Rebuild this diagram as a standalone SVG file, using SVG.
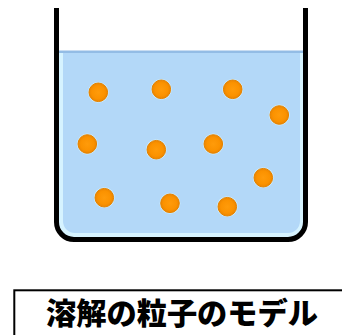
<svg xmlns="http://www.w3.org/2000/svg" width="342" height="335" viewBox="0 0 342 335">
  <style>
    .wall { fill: none; stroke: #000; stroke-width: 5; stroke-linecap: butt; stroke-linejoin: round; }
    .halo { fill: #cdeefe; }
    .grain { fill: url(#grainFill); stroke: #e58200; stroke-width: 1; }
    .title { font-family: "Noto Sans CJK JP", "Noto Sans", sans-serif; font-weight: 900; font-size: 30px; fill: #000; }
  </style>
  <defs>
    <radialGradient id="grainFill" cx="0.5" cy="0.5" r="0.5">
      <stop offset="0" stop-color="#ff9b0a"/>
      <stop offset="0.7" stop-color="#fb9200"/>
      <stop offset="1" stop-color="#ec8500"/>
    </radialGradient>
  </defs>

  <rect width="342" height="335" fill="#fff"/>

  <!-- liquid in the beaker -->
  <g id="water">
    <path d="M59,51 H303 V223 A14,14 0 0 1 289,237 H73 A14,14 0 0 1 59,223 Z" fill="#d6f3ff"/>
    <path d="M63,51 H300 V221 A12,12 0 0 1 288,233 H75 A12,12 0 0 1 63,221 Z" fill="#b3d8f8"/>
    <rect x="59" y="50.5" width="244" height="2.5" fill="#93bce5"/>
  </g>

  <!-- dissolved particles -->
  <g id="particles">
    <g id="p1"><circle class="halo" cx="98.3" cy="92.3" r="10.4"/><circle class="grain" cx="98.3" cy="92.3" r="9.3"/></g>
    <g id="p2"><circle class="halo" cx="161.3" cy="89.3" r="10.4"/><circle class="grain" cx="161.3" cy="89.3" r="9.3"/></g>
    <g id="p3"><circle class="halo" cx="232.7" cy="89.3" r="10.4"/><circle class="grain" cx="232.7" cy="89.3" r="9.3"/></g>
    <g id="p4"><circle class="halo" cx="279.3" cy="115" r="10.4"/><circle class="grain" cx="279.3" cy="115" r="9.3"/></g>
    <g id="p5"><circle class="halo" cx="87.3" cy="144" r="10.4"/><circle class="grain" cx="87.3" cy="144" r="9.3"/></g>
    <g id="p6"><circle class="halo" cx="156.3" cy="149.7" r="10.4"/><circle class="grain" cx="156.3" cy="149.7" r="9.3"/></g>
    <g id="p7"><circle class="halo" cx="213.3" cy="144" r="10.4"/><circle class="grain" cx="213.3" cy="144" r="9.3"/></g>
    <g id="p8"><circle class="halo" cx="263.3" cy="177.7" r="10.4"/><circle class="grain" cx="263.3" cy="177.7" r="9.3"/></g>
    <g id="p9"><circle class="halo" cx="104.3" cy="197.7" r="10.4"/><circle class="grain" cx="104.3" cy="197.7" r="9.3"/></g>
    <g id="p10"><circle class="halo" cx="170" cy="203.3" r="10.4"/><circle class="grain" cx="170" cy="203.3" r="9.3"/></g>
    <g id="p11"><circle class="halo" cx="227.3" cy="206.7" r="10.4"/><circle class="grain" cx="227.3" cy="206.7" r="9.3"/></g>
  </g>

  <!-- beaker outline -->
  <g id="beaker">
    <path class="wall" d="M56.5,8 V222 A17.5,17.5 0 0 0 74,239.5 H288 A17.5,17.5 0 0 0 305.5,222 V8"/>
  </g>

  <!-- caption box -->
  <g id="caption">
    <rect x="14.3" y="290.3" width="340" height="60" fill="#fff" stroke="#000" stroke-width="2"/>
    <text class="title" x="182" y="324" text-anchor="middle" textLength="272" lengthAdjust="spacingAndGlyphs">溶解の粒子のモデル</text>
  </g>
</svg>
